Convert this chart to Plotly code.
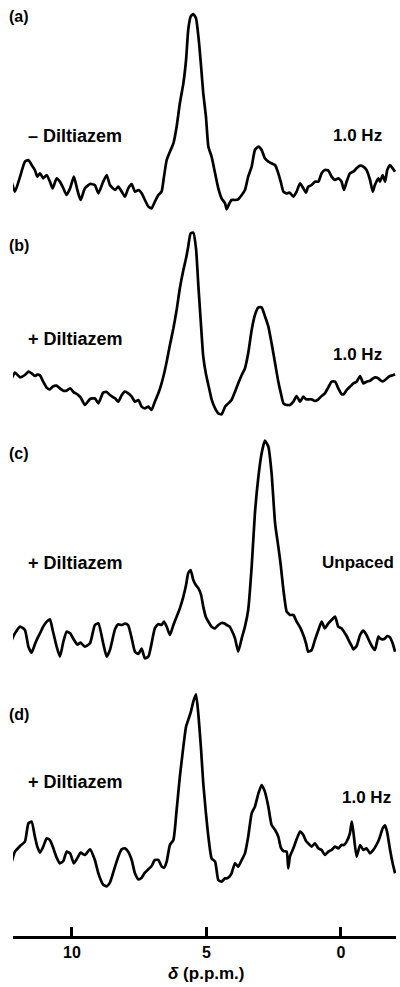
import plotly.graph_objects as go

# chemical shift (p.p.m.) sampling positions shared by all four spectra
PPM = [12.24, 12.12, 11.93, 11.75, 11.62, 11.50, 11.38, 11.29, 11.19, 11.07,
       10.94, 10.82, 10.72, 10.57, 10.45, 10.32, 10.20, 10.07, 9.93, 9.80,
       9.68, 9.52, 9.33, 9.15, 9.02, 8.84, 8.71, 8.59, 8.40, 8.28,
       8.15, 8.03, 7.91, 7.78, 7.66, 7.53, 7.41, 7.29, 7.16, 7.04,
       6.92, 6.79, 6.67, 6.58, 6.48, 6.36, 6.23, 6.11, 5.99, 5.86,
       5.76, 5.68, 5.59, 5.49, 5.39, 5.30, 5.20, 5.12, 5.02, 4.93,
       4.81, 4.68, 4.56, 4.44, 4.31, 4.25, 4.15, 4.07, 3.94, 3.82,
       3.69, 3.57, 3.45, 3.32, 3.20, 3.07, 2.95, 2.83, 2.70, 2.58,
       2.45, 2.33, 2.24, 2.14, 2.02, 1.96, 1.90, 1.77, 1.65, 1.52,
       1.40, 1.30, 1.22, 1.09, 0.97, 0.84, 0.72, 0.60, 0.47, 0.35,
       0.22, 0.10, -0.02, -0.11, -0.21, -0.33, -0.40, -0.46, -0.58, -0.71,
       -0.83, -0.95, -1.08, -1.18, -1.26, -1.39, -1.45, -1.55, -1.64, -1.72,
       -1.82, -1.92, -2.01]

# intensities (arbitrary units)
SPEC_A = [92, 65, 110, 155, 160, 145, 130, 110, 120, 105,
          115, 95, 75, 105, 95, 75, 55, 75, 110, 70,
          40, 75, 88, 85, 60, 95, 115, 85, 70, 80,
          65, 50, 75, 88, 65, 70, 60, 40, 20, 15,
          35, 55, 65, 110, 160, 185, 210, 260, 330, 390,
          460, 550, 590, 598, 585, 530, 440, 360, 290, 200,
          170, 120, 75, 45, 30, 12, 30, 40, 40, 42,
          55, 70, 110, 140, 190, 200, 190, 165, 155, 150,
          145, 120, 95, 65, 60, 61, 62, 50, 65, 90,
          75, 62, 80, 85, 95, 95, 120, 130, 128, 110,
          100, 105, 95, 70, 95, 120, 123, 125, 135, 143,
          140, 130, 100, 65, 85, 105, 95, 115, 95, 130,
          145, 135, 125]

SPEC_B = [125, 142, 128, 135, 145, 140, 132, 136, 134, 115,
          97, 92, 100, 103, 95, 88, 88, 95, 83, 77,
          68, 45, 63, 65, 50, 82, 84, 75, 65, 55,
          75, 85, 80, 70, 55, 60, 40, 35, 40, 30,
          55, 80, 110, 138, 175, 225, 275, 330, 395, 450,
          485, 520, 560, 562, 515, 400, 280, 190, 138, 105,
          62, 35, 20, 17, 40, 45, 53, 60, 85, 110,
          135, 155, 200, 270, 315, 338, 338, 312, 280, 230,
          170, 115, 82, 50, 45, 45, 45, 55, 72, 55,
          70, 62, 62, 62, 57, 62, 72, 80, 98, 115,
          115, 95, 78, 78, 90, 100, 105, 110, 115, 132,
          110, 115, 118, 124, 128, 125, 120, 116, 120, 126,
          132, 134, 137]

SPEC_C = [70, 90, 110, 100, 50, 32, 57, 74, 90, 110,
          125, 132, 100, 50, 20, 65, 95, 90, 71, 56,
          62, 50, 60, 115, 120, 60, 20, 40, 102, 117,
          115, 119, 114, 75, 35, 28, 44, 15, 20, 60,
          105, 118, 115, 125, 110, 85, 115, 140, 165, 200,
          235, 270, 280, 250, 234, 225, 205, 170, 138, 125,
          110, 105, 115, 121, 119, 115, 111, 100, 75, 35,
          75, 110, 160, 290, 450, 560, 630, 668, 650, 570,
          420, 350, 295, 220, 155, 150, 145, 145, 125, 108,
          85, 60, 35, 40, 70, 100, 125, 105, 120, 130,
          140, 110, 105, 95, 82, 62, 52, 42, 52, 85,
          98, 85, 62, 47, 40, 80, 75, 72, 75, 82,
          78, 60, 35]

SPEC_D = [95, 125, 142, 155, 210, 215, 170, 140, 122, 140,
          165, 160, 141, 107, 90, 97, 125, 120, 90, 106,
          122, 115, 132, 100, 60, 26, 21, 32, 80, 110,
          132, 135, 125, 100, 60, 42, 47, 62, 72, 82,
          100, 100, 81, 77, 95, 145, 160, 250, 350, 440,
          500, 520, 542, 575, 597, 535, 430, 330, 240, 170,
          105, 95, 40, 35, 45, 45, 50, 60, 90, 80,
          100, 120, 170, 240, 260, 300, 325, 305, 260, 205,
          190, 170, 138, 127, 125, 75, 110, 135, 162, 185,
          175, 157, 150, 140, 150, 135, 130, 115, 125, 130,
          140, 135, 145, 145, 155, 180, 215, 185, 110, 145,
          130, 135, 120, 128, 137, 157, 170, 195, 204, 182,
          132, 90, 60]

PANEL_TAGS = ["(a)", "(b)", "(c)", "(d)"]
DRUG_LABELS = ["\u2013 Diltiazem", "+ Diltiazem", "+ Diltiazem", "+ Diltiazem"]
RATE_LABELS = ["1.0 Hz", "1.0 Hz", "Unpaced", "1.0 Hz"]
TICK_VALS = [10, 5, 0]
TICK_TEXT = ["10", "5", "0"]
X_TITLE = "<i>\u03b4</i> (p.p.m.)"

W, H = 400, 987
FONT = "Liberation Sans"

spectra = [SPEC_A, SPEC_B, SPEC_C, SPEC_D]
# page-pixel baseline of each panel (top -> bottom)
baselines = [213.33, 420.0, 663.33, 893.33]
UNITS_PER_PX = 3.0

fig = go.Figure()
for k, vals in enumerate(spectra):
    yname = "y" if k == 0 else f"y{k+1}"
    fig.add_trace(go.Scatter(
        x=PPM, y=vals, mode="lines", xaxis="x", yaxis=yname,
        line=dict(color="black", width=2.7, shape="spline", smoothing=0.5),
        showlegend=False, hoverinfo="skip"))

layout = dict(
    width=W, height=H, margin=dict(l=0, r=0, t=0, b=0),
    paper_bgcolor="white", plot_bgcolor="white", showlegend=False,
    xaxis=dict(domain=[13 / W, 396 / W], range=[12.193, -2.045],
               anchor="free", position=1 - 937 / H,
               showline=True, linecolor="black", linewidth=3,
               ticks="inside", ticklen=9, tickwidth=2.5, tickcolor="black",
               tickvals=TICK_VALS, ticktext=[f"<b>{t}</b>" for t in TICK_TEXT],
               tickfont=dict(family=FONT, size=16, color="black"),
               showgrid=False, zeroline=False, fixedrange=True),
)
for k, base in enumerate(baselines):
    key = "yaxis" if k == 0 else f"yaxis{k+1}"
    top = UNITS_PER_PX * base
    ax = dict(domain=[0, 1], range=[top - UNITS_PER_PX * H, top], visible=False,
              anchor="x", fixedrange=True)
    if k > 0:
        ax["overlaying"] = "y"
    layout[key] = ax
fig.update_layout(**layout)

def px_to_paper(x, y):
    return x / W, 1 - y / H

ann = []
tag_y = [16, 245, 453, 714]
drug_y = [136, 339, 563, 782]
rate_pos = [(384, 136), (384, 354), (396, 562), (393, 797)]
for k in range(4):
    x, y = px_to_paper(7, tag_y[k])
    ann.append(dict(x=x, y=y, xref="paper", yref="paper", text=f"<b>{PANEL_TAGS[k]}</b>",
                    showarrow=False, xanchor="left", yanchor="middle",
                    font=dict(family=FONT, size=16, color="black")))
    x, y = px_to_paper(26, drug_y[k])
    ann.append(dict(x=x, y=y, xref="paper", yref="paper", text=f"<b>{DRUG_LABELS[k]}</b>",
                    showarrow=False, xanchor="left", yanchor="middle",
                    font=dict(family=FONT, size=18, color="black")))
    x, y = px_to_paper(*rate_pos[k])
    ann.append(dict(x=x, y=y, xref="paper", yref="paper", text=f"<b>{RATE_LABELS[k]}</b>",
                    showarrow=False, xanchor="right", yanchor="middle",
                    font=dict(family=FONT, size=17, color="black")))
ann.append(dict(x=5, y=1 - 973 / H, xref="x", yref="paper", text=f"<b>{X_TITLE}</b>",
                showarrow=False, xanchor="center", yanchor="middle",
                font=dict(family=FONT, size=17, color="black")))
fig.update_layout(annotations=ann)

fig.write_html("out.html", config={"displayModeBar": False},
               post_script="document.body.style.margin='0';document.body.style.padding='0';")
